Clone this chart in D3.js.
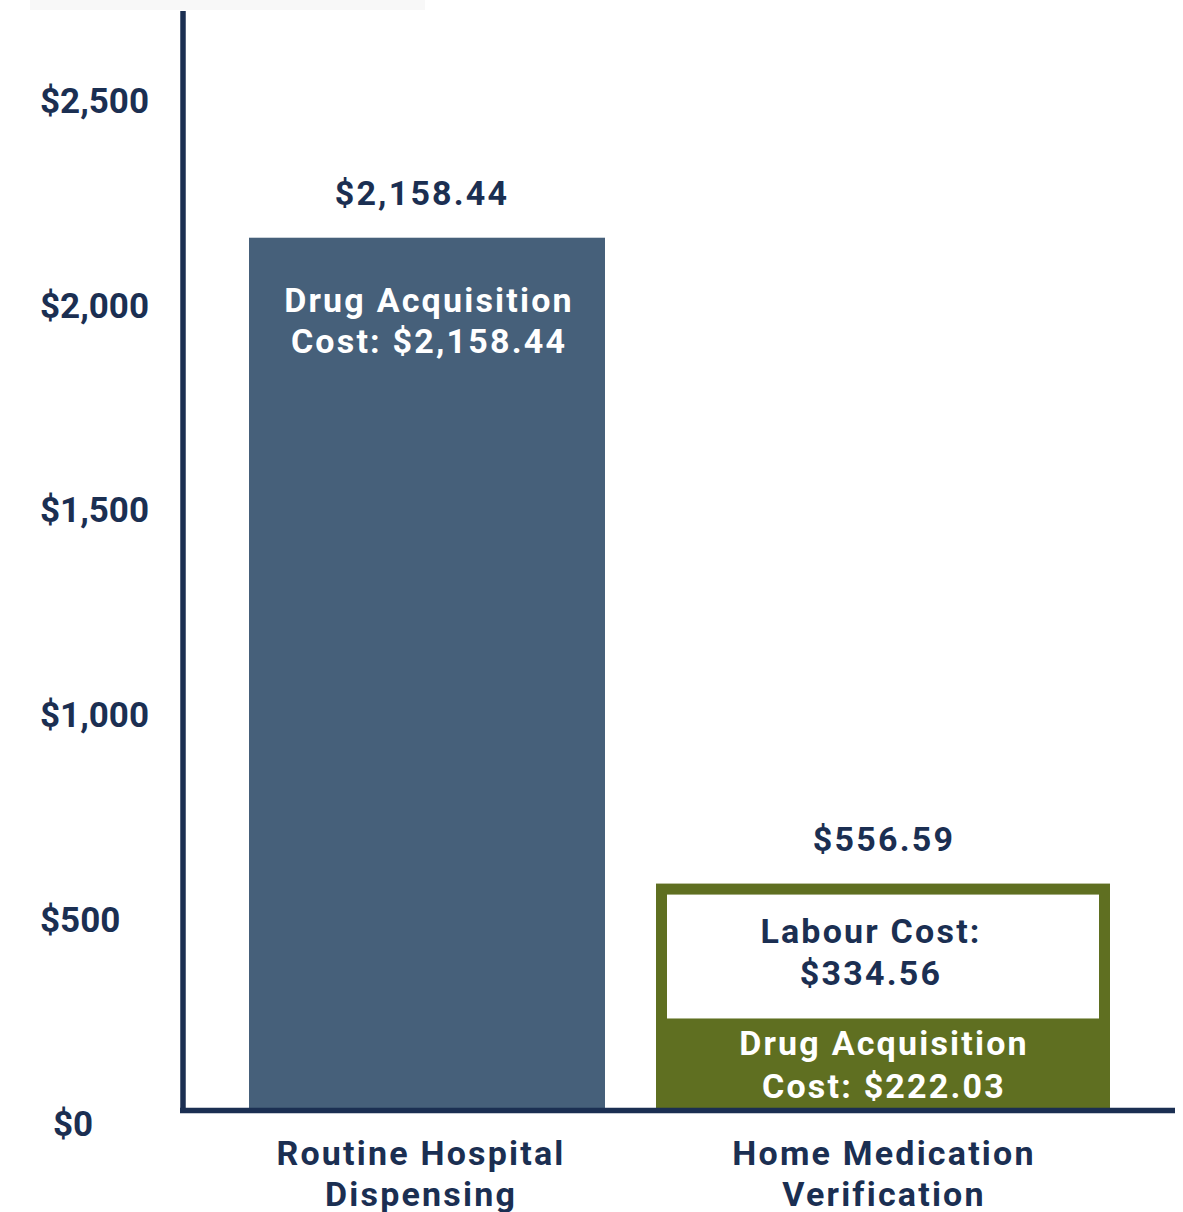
<!DOCTYPE html>
<html>
<head>
<meta charset="utf-8">
<script src="https://cdn.jsdelivr.net/npm/d3@7"></script>
<style>
  body { margin: 0; background: #fff; }
  text { font-family: Roboto, "Noto Sans", sans-serif; font-weight: 700; }
</style>
</head>
<body>
<div id="chart"></div>
<script>
// Chart values
const categories = ["Routine Hospital Dispensing", "Home Medication Verification"]
const categoryLines = [["Routine Hospital", "Dispensing"], ["Home Medication", "Verification"]]
const drugCost = [2158.44, 222.03]
const labourCost = [0, 334.56]
const totals = [2158.44, 556.59]
const tickValues = [0, 500, 1000, 1500, 2000, 2500]

const width = 1183, height = 1212
const navy = "#1b2f52"
const blue = "#46607a"
const green = "#5f6f21"
const labelSize = "34px", labelSpacing = "2.2px"

const svg = d3.select("#chart").append("svg")
    .attr("width", width)
    .attr("height", height)

// faint strip at the very top
svg.append("rect").attr("x", 30).attr("y", 0).attr("width", 395).attr("height", 10).attr("fill", "#f8f8f8")

// Scales
const y = d3.scaleLinear().domain([0, 2500]).range([1108, 100])
const yLabel = d3.scaleLinear().domain([0, 2500]).range([1124, 101])   // tick labels sit a bit lower
const x = d3.scaleBand().domain(categories).range([199, 1111]).padding(0)
const barWidth = { [categories[0]]: 356, [categories[1]]: 454 }
const labelShift = [-5, 1]
const fmt = d3.format("$,.2f")

// Y tick labels
svg.append("g").selectAll("text")
    .data(tickValues)
    .join("text")
    .attr("x", d => d === 0 ? 53 : 40)
    .attr("y", d => yLabel(d))
    .attr("dy", "0.35em")
    .attr("fill", navy)
    .style("font-size", "35px")
    .text(d => d3.format("$,")(d))

function multiLine(sel, lines, xPos, y0, gap) {
    sel.selectAll("tspan")
        .data(lines)
        .join("tspan")
        .attr("x", xPos)
        .attr("y", (d, j) => y0 + j * gap)
        .text(d => d)
}

// Bars
categories.forEach((c, i) => {
    const w = barWidth[c]
    const x0 = x(c) + x.bandwidth() / 2 - w / 2
    const cx = x(c) + x.bandwidth() / 2

    if (labourCost[i] === 0) {
        svg.append("rect")
            .attr("x", x0).attr("y", y(drugCost[i]))
            .attr("width", w).attr("height", y(0) - y(drugCost[i]))
            .attr("fill", blue)

        svg.append("text")
            .attr("text-anchor", "middle").attr("fill", "#fff")
            .style("font-size", labelSize).style("letter-spacing", labelSpacing)
            .call(multiLine, ["Drug Acquisition", "Cost: " + fmt(drugCost[i])], cx + 2, y(drugCost[i]) + 74, 41)
    } else {
        const top = y(drugCost[i] + labourCost[i])
        const mid = y(drugCost[i])
        const inset = 11
        // green outline for the whole stack
        svg.append("rect")
            .attr("x", x0).attr("y", top)
            .attr("width", w).attr("height", y(0) - top)
            .attr("fill", green)
        // labour segment (white, inside the outline)
        svg.append("rect")
            .attr("x", x0 + inset).attr("y", top + inset)
            .attr("width", w - 2 * inset).attr("height", mid - top - inset)
            .attr("fill", "#fff")

        const labourMid = (top + inset + mid) / 2
        svg.append("text")
            .attr("text-anchor", "middle").attr("fill", navy)
            .style("font-size", labelSize).style("letter-spacing", labelSpacing)
            .call(multiLine, ["Labour Cost:", fmt(labourCost[i])], cx - 12, labourMid - 14, 42)

        const drugMid = (mid + y(0)) / 2
        svg.append("text")
            .attr("text-anchor", "middle").attr("fill", "#fff")
            .style("font-size", labelSize).style("letter-spacing", labelSpacing)
            .call(multiLine, ["Drug Acquisition", "Cost: " + fmt(drugCost[i])], cx + 1, drugMid - 8, 43)
    }

    // total label above bar
    svg.append("text")
        .attr("x", cx + labelShift[i]).attr("y", y(totals[i]) - 33)
        .attr("text-anchor", "middle").attr("fill", navy)
        .style("font-size", labelSize).style("letter-spacing", labelSpacing)
        .text(fmt(totals[i]))

    // category label
    svg.append("text")
        .attr("text-anchor", "middle").attr("fill", navy)
        .style("font-size", labelSize).style("letter-spacing", labelSpacing)
        .call(multiLine, categoryLines[i], cx + (i === 0 ? -6 : 1), 1165, 41)
})

// Axes lines
svg.append("line")
    .attr("x1", 183).attr("x2", 183).attr("y1", 11).attr("y2", 1113)
    .attr("stroke", navy).attr("stroke-width", 5.5)
svg.append("line")
    .attr("x1", 180).attr("x2", 1175).attr("y1", 1110.5).attr("y2", 1110.5)
    .attr("stroke", navy).attr("stroke-width", 5.5)
</script>
</body>
</html>
